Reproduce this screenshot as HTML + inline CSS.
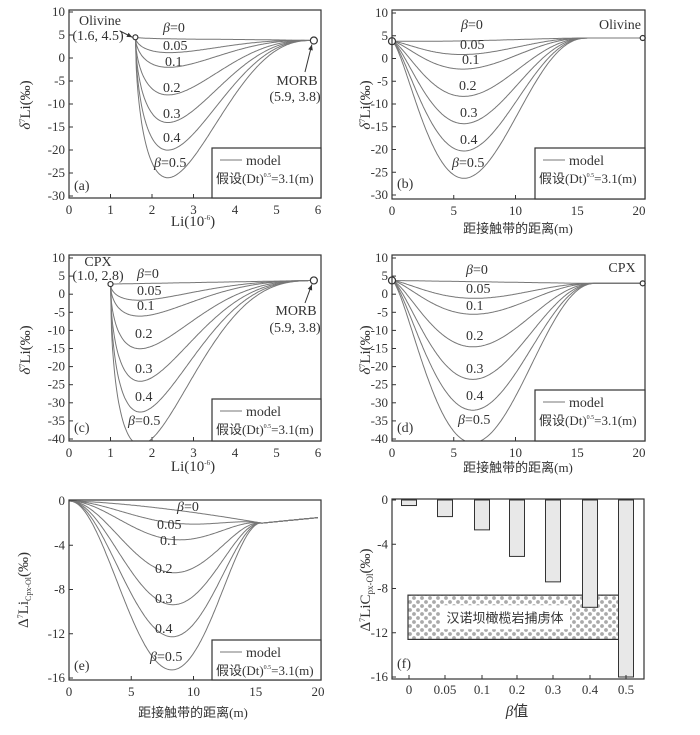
<!DOCTYPE html>
<html><head><meta charset="utf-8"><style>
html,body{margin:0;padding:0;background:#fff;}
svg{display:block;}
text{font-family:"Liberation Serif","Noto Serif CJK SC",serif;fill:#333;}
.cn{font-family:"Liberation Serif","Noto Sans CJK SC",sans-serif;}
</style></head><body>
<svg id="s" width="700" height="735" viewBox="0 0 700 735" xmlns="http://www.w3.org/2000/svg">
<defs>
<pattern id="dots" width="8" height="8" patternUnits="userSpaceOnUse">
<circle cx="2" cy="2" r="1.9" fill="#aaa"/><circle cx="6" cy="6" r="1.9" fill="#aaa"/>
</pattern>
</defs>
</svg>
<script>
var s=document.getElementById('s');var out='';
function T(x,y,t,o){o=o||{};out+='<text x="'+x+'" y="'+y+'" font-size="'+(o.fs||13)+'"'+(o.a?' text-anchor="'+o.a+'"':'')+(o.tr?' transform="'+o.tr+'"':'')+(o.cls?' class="'+o.cls+'"':'')+'>'+t+'</text>';}
var bet=['<tspan font-style="italic">β</tspan>=0','0.05','0.1','0.2','0.3','0.4','<tspan font-style="italic">β</tspan>=0.5'];
function panel(c){
 var X=function(v){return c.x0+(v-c.xmin)/(c.xmax-c.xmin)*(c.x1-c.x0);};
 var Y=function(v){return c.y0+(c.ymax-v)/(c.ymax-c.ymin)*(c.y1-c.y0);};
 var id='cp'+c.n;
 out+='<clipPath id="'+id+'"><rect x="'+c.L+'" y="'+c.Tp+'" width="'+(c.R-c.L)+'" height="'+(c.B-c.Tp)+'"/></clipPath>';
 c.xt.forEach(function(v){var x=X(v);out+='<line x1="'+x+'" y1="'+c.B+'" x2="'+x+'" y2="'+(c.B-4)+'" stroke="#333"/>';T(x,c.B+16,v,{a:'middle'});});
 c.yt.forEach(function(v){var y=Y(v);out+='<line x1="'+c.L+'" y1="'+y+'" x2="'+(c.L+4)+'" y2="'+y+'" stroke="#333"/>';T(c.L-4,y+4,v,{a:'end'});});
 if(c.curves){
  c.d.forEach(function(d){var p='';for(var i=0;i<=200;i++){var x=c.xa+(c.xb-c.xa)*i/200;var y=c.f(x,d);p+=(i?'L':'M')+X(x).toFixed(1)+','+Y(y).toFixed(1);}
  out+='<path d="'+p+'" fill="none" stroke="#777" stroke-width="1" clip-path="url(#'+id+')"/>';});
 }
 if(c.extra)c.extra(X,Y);
 out+='<rect x="'+c.L+'" y="'+c.Tp+'" width="'+(c.R-c.L)+'" height="'+(c.B-c.Tp)+'" fill="none" stroke="#333" stroke-width="1.2"/>';
 if(c.leg){var l=c.leg;out+='<rect x="'+l[0]+'" y="'+l[1]+'" width="'+(c.R-l[0])+'" height="'+(c.B-l[1])+'" fill="#fff" stroke="#333" stroke-width="1.2"/>';
  out+='<line x1="'+(l[0]+8)+'" y1="'+(l[1]+12)+'" x2="'+(l[0]+30)+'" y2="'+(l[1]+12)+'" stroke="#777"/>';
  T(l[0]+34,l[1]+17,'model',{fs:14});
  T(l[0]+4,l[1]+35,'假设(Dt)<tspan font-size="6" dy="-6">0.5</tspan><tspan dy="6">=3.1(m)</tspan>',{fs:13,cls:'cn'});}
 if(c.lab)c.lab.forEach(function(q,i){T(q[0],q[1],bet[i],{fs:14});});
 T(c.L+5,c.letY,c.letter,{fs:14});
}
function bump(u,a,b){if(u<=0||u>=1)return 0;var p=a/(a+b);return Math.pow(u/p,a)*Math.pow((1-u)/(1-p),b);}
var dAB=[0.2,3.2,6.4,12.4,18.4,24.4,30.4],dCD=[0,4.6,9,18,27,35.5,44.5],dE=[0,1.2,2.7,5.7,8.6,11.5,14.5];
function circ(x,y,r){out+='<circle cx="'+x+'" cy="'+y+'" r="'+r+'" fill="#fff" stroke="#333" stroke-width="1.2"/>';}
function arrow(x1,y1,x2,y2){out+='<line x1="'+x1+'" y1="'+y1+'" x2="'+x2+'" y2="'+y2+'" stroke="#333"/>';var a=Math.atan2(y2-y1,x2-x1);out+='<path d="M'+x2+','+y2+'L'+(x2-6*Math.cos(a-0.4))+','+(y2-6*Math.sin(a-0.4))+'L'+(x2-6*Math.cos(a+0.4))+','+(y2-6*Math.sin(a+0.4))+'Z" fill="#333"/>';}
// a
panel({n:'a',L:69,R:321,Tp:10,B:198,x0:69,x1:318,xmin:0,xmax:6,y0:12,y1:196,ymin:-30,ymax:10,xt:[0,1,2,3,4,5,6],yt:[10,5,0,-5,-10,-15,-20,-25,-30],
 curves:1,d:dAB,xa:1.6,xb:5.9,f:function(x,d){var u=(x-1.6)/4.3;return 4.5-0.7*u-d*bump(u,0.55,2.5);},
 leg:[212,148],letter:'(a)',letY:190,lab:[[163,32],[163,50],[165,66],[163,92],[163,118],[163,142],[154,167]],
 extra:function(X,Y){circ(X(1.6),Y(4.5),2.5);circ(X(5.9),Y(3.8),3.5);T(100,25,'Olivine',{fs:14,a:'middle'});T(98,40,'(1.6, 4.5)',{fs:14,a:'middle'});arrow(120,31,X(1.6)-3,Y(4.5));
  T(297,85,'MORB',{fs:14,a:'middle'});T(295,101,'(5.9, 3.8)',{fs:14,a:'middle'});arrow(305,72,X(5.9)-2,Y(3.8)+4);}});
T(30,105,'<tspan font-style="italic">δ</tspan><tspan font-size="8" dy="-5">7</tspan><tspan dy="5">Li(‰)</tspan>',{fs:15,a:'middle',tr:'rotate(-90 30 105)'});
T(193,226,'Li(10<tspan font-size="7" dy="-6">-6</tspan><tspan dy="6">)</tspan>',{fs:15,a:'middle'});
// b
panel({n:'b',L:392,R:645,Tp:10,B:199,x0:392,x1:639,xmin:0,xmax:20,y0:13,y1:195,ymin:-30,ymax:10,xt:[0,5,10,15,20],yt:[10,5,0,-5,-10,-15,-20,-25,-30],
 curves:1,d:dAB,xa:0,xb:20.3,f:function(x,d){var u=x/16;return (x<15?3.8+0.7*x/15:4.5)-d*bump(u,1.5,2.6);},
 leg:[535,148],letter:'(b)',letY:188,lab:[[461,29],[460,49],[462,64],[459,90],[460,117],[460,144],[452,167]],
 extra:function(X,Y){circ(X(0),Y(3.8),3.5);circ(X(20.3),Y(4.5),2.5);T(620,29,'Olivine',{fs:14,a:'middle'});}});
T(370,105,'<tspan font-style="italic">δ</tspan><tspan font-size="8" dy="-5">7</tspan><tspan dy="5">Li(‰)</tspan>',{fs:15,a:'middle',tr:'rotate(-90 370 105)'});
T(518,233,'距接触带的距离(m)',{fs:13,a:'middle',cls:'cn'});
// c
panel({n:'c',L:69,R:321,Tp:255,B:441,x0:69,x1:318,xmin:0,xmax:6,y0:258,y1:439,ymin:-40,ymax:10,xt:[0,1,2,3,4,5,6],yt:[10,5,0,-5,-10,-15,-20,-25,-30,-35,-40],
 curves:1,d:dCD,xa:1.0,xb:5.9,f:function(x,d){var u=(x-1)/4.9;return 2.8+1.0*u-d*bump(u,0.5,2.9);},
 leg:[212,399],letter:'(c)',letY:432,lab:[[137,278],[137,295],[137,310],[135,338],[135,373],[135,401],[128,425]],
 extra:function(X,Y){circ(X(1.0),Y(2.8),2.5);circ(X(5.9),Y(3.8),3.5);T(98,266,'CPX',{fs:14,a:'middle'});T(98,280,'(1.0, 2.8)',{fs:14,a:'middle'});
  T(296,315,'MORB',{fs:14,a:'middle'});T(295,332,'(5.9, 3.8)',{fs:14,a:'middle'});arrow(305,303,X(5.9)-2,Y(3.8)+4);}});
T(30,350,'<tspan font-style="italic">δ</tspan><tspan font-size="8" dy="-5">7</tspan><tspan dy="5">Li(‰)</tspan>',{fs:15,a:'middle',tr:'rotate(-90 30 350)'});
T(193,471,'Li(10<tspan font-size="7" dy="-6">-6</tspan><tspan dy="6">)</tspan>',{fs:15,a:'middle'});
// d
panel({n:'d',L:392,R:645,Tp:255,B:441,x0:392,x1:639,xmin:0,xmax:20,y0:258,y1:439,ymin:-40,ymax:10,xt:[0,5,10,15,20],yt:[10,5,0,-5,-10,-15,-20,-25,-30,-35,-40],
 curves:1,d:dCD,xa:0,xb:20.3,f:function(x,d){var u=x/16.5;return (x<15.5?3.8-0.8*x/15.5:3.0)-d*bump(u,1.5,2.3);},
 leg:[535,390],letter:'(d)',letY:432,lab:[[466,274],[466,293],[466,310],[466,340],[466,373],[466,400],[458,424]],
 extra:function(X,Y){circ(X(0),Y(3.8),3.5);circ(X(20.3),Y(3.0),2.5);T(622,272,'CPX',{fs:14,a:'middle'});}});
T(370,350,'<tspan font-style="italic">δ</tspan><tspan font-size="8" dy="-5">7</tspan><tspan dy="5">Li(‰)</tspan>',{fs:15,a:'middle',tr:'rotate(-90 370 350)'});
T(518,472,'距接触带的距离(m)',{fs:13,a:'middle',cls:'cn'});
// e
panel({n:'e',L:69,R:321,Tp:500,B:680,x0:69,x1:318,xmin:0,xmax:20,y0:501,y1:678,ymin:-16,ymax:0,xt:[0,5,10,15,20],yt:[0,-4,-8,-12,-16],
 curves:1,d:dE,xa:0,xb:20,f:function(x,d){var u=x/15.5;var base=x<15.5?-2*Math.pow(x/15.5,1.5):-2+0.5*(x-15.5)/4.5;return base-d*bump(u,2.2,2);},
 leg:[212,640],letter:'(e)',letY:670,lab:[[177,511],[157,529],[160,545],[155,573],[155,603],[155,633],[150,661]]});
T(28,590,'Δ<tspan font-size="8" dy="-5">7</tspan><tspan dy="5">Li</tspan><tspan font-size="8" dy="3">Cpx-Ol</tspan><tspan dy="-3">(‰)</tspan>',{fs:15,a:'middle',tr:'rotate(-90 28 590)'});
T(193,717,'距接触带的距离(m)',{fs:13,a:'middle',cls:'cn'});
// f
panel({n:'f',L:392,R:644,Tp:499,B:679,x0:0,x1:1,xmin:0,xmax:1,y0:500,y1:677,ymin:-16,ymax:0,xt:[],yt:[0,-4,-8,-12,-16],letter:'(f)',letY:668,
 extra:function(X,Y){
  var xs=[409,445,482,517,553,590,626],vs=[-0.5,-1.5,-2.7,-5.1,-7.4,-9.7,-16],lb=['0','0.05','0.1','0.2','0.3','0.4','0.5'];
  out+='<rect x="408" y="'+Y(-8.6)+'" width="211" height="'+(Y(-12.6)-Y(-8.6))+'" fill="url(#dots)" stroke="#333" stroke-width="1.2"/>';
  out+='<rect x="440" y="'+(Y(-10.6)-12)+'" width="130" height="24" fill="#fff"/>';
  T(505,Y(-10.6)+5,'汉诺坝橄榄岩捕虏体',{fs:13,a:'middle',cls:'cn'});
  xs.forEach(function(x,i){out+='<rect x="'+(x-7.5)+'" y="500" width="15" height="'+(Y(vs[i])-500)+'" fill="#e8e8e8" stroke="#333"/>';
   out+='<line x1="'+x+'" y1="679" x2="'+x+'" y2="675" stroke="#333"/>';T(x,694,lb[i],{a:'middle'});});
 }});
T(370,590,'Δ<tspan font-size="8" dy="-5">7</tspan><tspan dy="5">LiC</tspan><tspan font-size="9" dy="3">px-Ol</tspan><tspan dy="-3">(‰)</tspan>',{fs:15,a:'middle',tr:'rotate(-90 370 590)'});
T(517,716,'<tspan font-style="italic">β</tspan>值',{fs:15,a:'middle',cls:'cn'});
s.insertAdjacentHTML('beforeend',out);
</script>
</body></html>
